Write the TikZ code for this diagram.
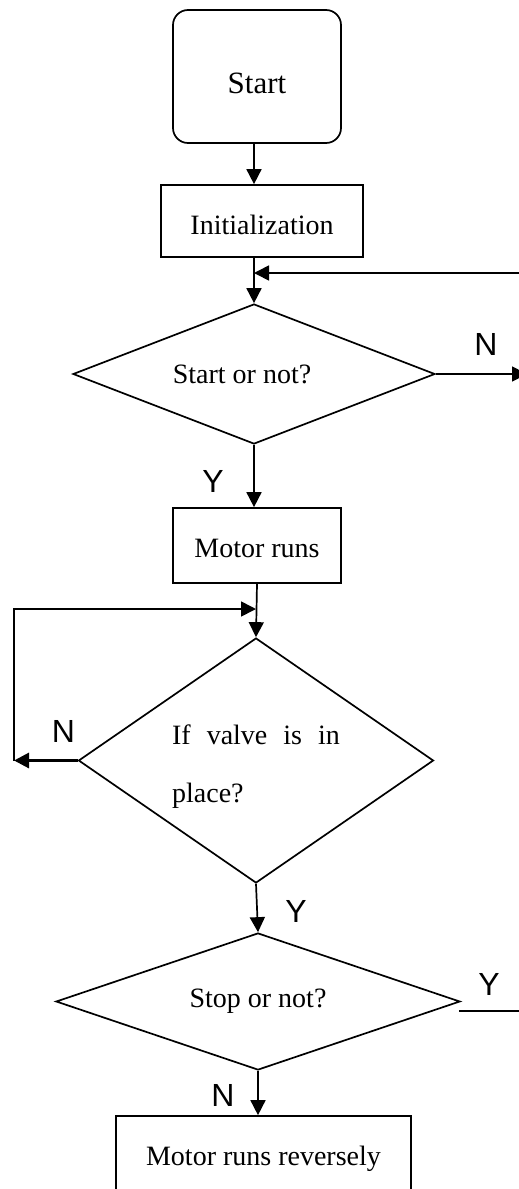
\documentclass[tikz,border=0pt]{standalone}
\usepackage{fontspec}
\setmainfont{Liberation Serif}
\newfontfamily\lblfont{Liberation Sans}
\usetikzlibrary{shapes.geometric,arrows.meta,calc}
\begin{document}
\begin{tikzpicture}[x=1pt,y=-1pt,
  box/.style={draw, line width=1.7pt, inner sep=0pt, font=\fontsize{28}{33}\selectfont},
  dia/.style={draw, diamond, line width=1.7pt, inner sep=0pt, font=\fontsize{28}{33}\selectfont},
  arr/.style={line width=1.7pt, -{Triangle[length=15pt,width=15pt]}},
  plain/.style={line width=1.7pt},
  lbl/.style={font=\lblfont\fontsize{32}{36}\selectfont, inner sep=0pt}]
\useasboundingbox (0,0) rectangle (519,1189);
\fill[white] (0,0) rectangle (519,1189);

% nodes
\node[box, rounded corners=15pt, minimum width=168pt, minimum height=133pt,
      font=\fontsize{31}{36}\selectfont] (start) at (257,76.5) {\rule{0pt}{35pt}Start};
\node[box, minimum width=202pt, minimum height=72pt] (init) at (262,221) {\rule{0pt}{27pt}Initialization};
\node[dia, shape aspect=2.586, minimum width=362pt, minimum height=140pt] (d1) at (254,374) {Start or not?\hspace*{24pt}};
\node[box, minimum width=168pt, minimum height=75pt] (mr) at (257,545.5) {\rule{0pt}{25pt}Motor runs};
\node[dia, shape aspect=1.449, minimum width=355pt, minimum height=245pt, align=left,
      font=\fontsize{28}{58}\selectfont] (d2) at (256,760.5)
      {\rule{0pt}{31pt}If\hspace{16pt}valve\hspace{16pt}is\hspace{16pt}in\\place?};
\node[dia, shape aspect=2.95, minimum width=404pt, minimum height=137pt] (d3) at (258,1001.5) {Stop or not?};
\node[box, minimum width=295pt, minimum height=86pt] (rev) at (263.5,1159) {Motor runs reversely};

% free ends
\coordinate (fbR) at (532,273);
\coordinate (nR) at (527,374);
\coordinate (lb) at (14,760.5);
\coordinate (lt) at (14,609);
\coordinate (ya) at (459,1011);
\coordinate (yb) at (530,1011);

% connectors
\draw[arr] (start.south -| d1.north) -- (init.north -| d1.north);
\draw[arr] (init.south -| d1.north) -- (d1.north);
\draw[arr] (fbR) -- (fbR -| d1.north);
\draw[arr] (d1.east) -- (nR);
\draw[arr] (d1.south) -- (d1.south |- mr.north);
\draw[arr] (mr.south) -- (d2.north);
\draw[arr, line width=3pt] (d2.west) -- (lb);
\draw[arr] (lb) -- (lt) -- (lt -| d2.north);
\draw[arr] (d2.south) -- (d3.north);
\draw[plain] (ya) -- (yb);
\draw[arr] (d3.south) -- (d3.south |- rev.north);

% labels
\node[lbl] (lN1) at (486,344.5) {N};
\node[lbl] (lY1) at (213,481.5) {Y};
\node[lbl] (lN2) at (63.5,731) {N};
\node[lbl] (lY2) at (296,911.5) {Y};
\node[lbl] (lY3) at (489,984.5) {Y};
\node[lbl] (lN3) at (223,1095) {N};
\end{tikzpicture}
\end{document}
